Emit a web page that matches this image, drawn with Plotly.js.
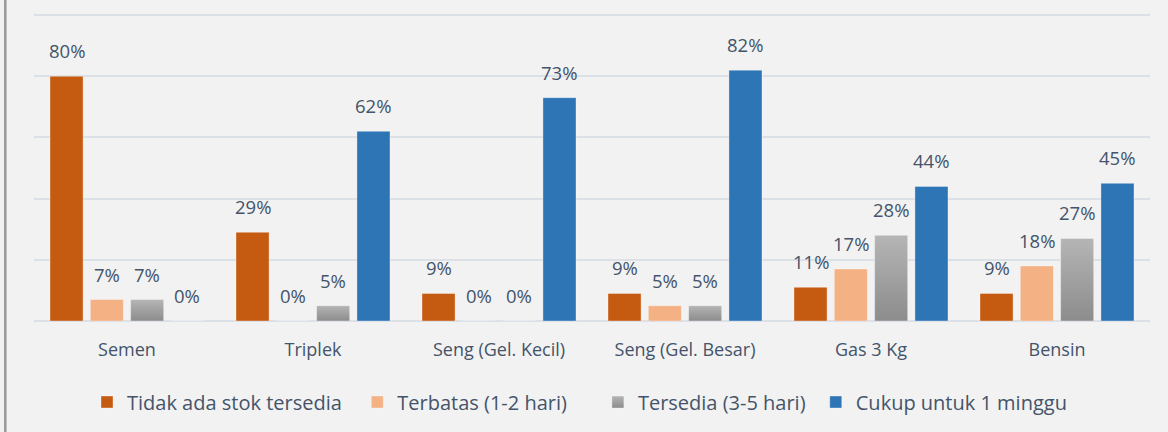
<!DOCTYPE html>
<html><head><meta charset="utf-8">
<script src="https://cdn.plot.ly/plotly-3.0.1.min.js"></script>
<style>html,body{margin:0;padding:0;background:#F2F2F2;} #chart{width:1168px;height:432px;}</style>
</head><body><div id="chart"></div>
<script>
const categories = ['Semen', 'Triplek', 'Seng (Gel. Kecil)', 'Seng (Gel. Besar)', 'Gas 3 Kg', 'Bensin'];
const seriesNames = ['Tidak ada stok tersedia', 'Terbatas (1-2 hari)', 'Tersedia (3-5 hari)', 'Cukup untuk 1 minggu'];
const tidakAda = [80, 29, 9, 9, 11, 9];
const terbatas = [7, 0, 0, 5, 17, 18];
const tersedia = [7, 5, 0, 5, 28, 27];
const cukup = [0, 62, 73, 82, 44, 45];
const seriesValues = [tidakAda, terbatas, tersedia, cukup];
const colors = ['#C55A11', '#F4B183', '#A5A5A5', '#2E75B6'];
// invisible trailing padding so legend entries sit at the reference spacing
const legendPad = ['\u00a0\u00a0', '\u00a0\u00a0\u00a0\u00a0\u00a0', '\u00a0', ''];

const W = 1168, H = 432;
const margin = {l: 34, r: 18, t: 12, b: 110};
const bargap = 0.133, bargroupgap = 0.18;
const plotW = W - margin.l - margin.r;
const plotH = H - margin.t - margin.b;
const slot = plotW / categories.length * (1 - bargap) / seriesValues.length;
const textColor = '#44546A';
const font = 'Open Sans, sans-serif';

const traces = seriesValues.map((vals, i) => ({
  type: 'bar',
  name: seriesNames[i] + legendPad[i],
  x: categories,
  y: vals,
  marker: {color: colors[i], line: {color: 'rgba(255,255,255,0.35)', width: 1}},
  hoverinfo: 'none'
}));

const annotations = [];
seriesValues.forEach((vals, i) => {
  vals.forEach((v, j) => {
    annotations.push({
      x: categories[j], y: v, xref: 'x', yref: 'y',
      text: v + '%', showarrow: false,
      xanchor: 'center', yanchor: 'bottom',
      xshift: (i - (seriesValues.length - 1) / 2) * slot,
      yshift: 11,
      font: {family: font, size: 18.5, color: textColor}
    });
  });
});

const layout = {
  width: W, height: H,
  margin: margin,
  paper_bgcolor: '#F2F2F2',
  plot_bgcolor: '#F2F2F2',
  barmode: 'group',
  bargap: bargap,
  bargroupgap: bargroupgap,
  font: {family: font, color: textColor},
  xaxis: {
    showline: false, ticks: '', showgrid: false,
    tickfont: {family: font, size: 18, color: textColor},
    ticklabelstandoff: 16
  },
  yaxis: {
    range: [0, 101], tickvals: [0, 20, 40, 60, 80, 100], showticklabels: false,
    showgrid: true, gridcolor: '#DCE1E8', gridwidth: 2,
    zeroline: true, zerolinecolor: '#DCE1E8', zerolinewidth: 2,
    showline: false, ticks: ''
  },
  showlegend: true,
  legend: {
    orientation: 'h', x: (87 - margin.l) / plotW, xanchor: 'left',
    y: -(402 - (H - margin.b)) / plotH, yanchor: 'middle',
    font: {family: font, size: 20, color: textColor},
    bgcolor: 'rgba(0,0,0,0)', traceorder: 'normal'
  },
  annotations: annotations,
  shapes: [{
    type: 'line', xref: 'paper', yref: 'paper',
    x0: (5.3 - margin.l) / plotW, x1: (5.3 - margin.l) / plotW,
    y0: -(margin.b + 5) / plotH, y1: 1 + (margin.t + 5) / plotH,
    line: {color: '#999999', width: 2.5}
  }]
};

Plotly.newPlot('chart', traces, layout, {displayModeBar: false, staticPlot: true}).then(gd => {
  const svg = gd.querySelector('svg.main-svg');
  const ns = 'http://www.w3.org/2000/svg';
  let defs = svg.querySelector('defs');
  if (!defs) { defs = document.createElementNS(ns, 'defs'); svg.insertBefore(defs, svg.firstChild); }
  const grad = document.createElementNS(ns, 'linearGradient');
  grad.setAttribute('id', 'grayGrad');
  grad.setAttribute('x1', '0'); grad.setAttribute('y1', '0');
  grad.setAttribute('x2', '0'); grad.setAttribute('y2', '1');
  [['0', '#B5B5B5'], ['1', '#8C8C8C']].forEach(([o, c]) => {
    const s = document.createElementNS(ns, 'stop');
    s.setAttribute('offset', o); s.setAttribute('stop-color', c);
    grad.appendChild(s);
  });
  defs.appendChild(grad);
  const barTraces = gd.querySelectorAll('.barlayer .trace.bars');
  if (barTraces[2]) barTraces[2].querySelectorAll('path').forEach(p => { p.style.fill = 'url(#grayGrad)'; });
  const legTraces = gd.querySelectorAll('.legend .traces');
  if (legTraces[2]) legTraces[2].querySelectorAll('.legendpoints path').forEach(p => { p.style.fill = 'url(#grayGrad)'; });
});
</script>
</body></html>
